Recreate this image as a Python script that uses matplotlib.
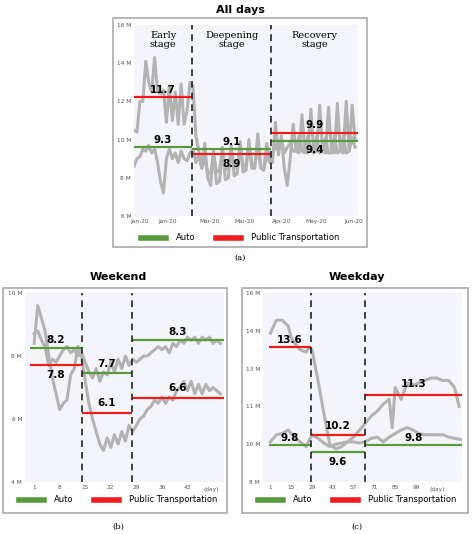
import matplotlib
matplotlib.use("Agg")
import matplotlib.pyplot as plt
from matplotlib.patches import Rectangle
from matplotlib.lines import Line2D
import numpy as np

# ---------- data: All days ----------
all_days = list(range(0, 152, 2))
all_pt = [10.5,10.4,12.0,12.0,14.1,13.0,12.5,14.3,12.5,12.4,12.6,10.9,12.8,11.0,12.5,10.8,12.9,10.8,11.5,13.0,
          12.8,10.2,9.4,8.5,9.8,8.0,7.6,9.4,7.7,7.8,9.6,7.9,8.0,9.7,8.1,8.2,9.9,8.3,8.4,10.0,8.5,8.5,10.3,8.6,8.4,9.8,9.0,
          8.8,10.9,9.2,10.2,8.5,7.6,9.0,10.8,9.4,9.3,11.3,9.4,9.3,11.6,9.3,9.4,11.8,9.4,9.3,11.7,9.4,9.3,11.9,9.4,9.3,12.0,9.4,11.8,10.0]
all_auto = [8.6,9.0,9.1,9.5,9.4,9.7,9.3,9.5,8.8,7.8,7.2,9.0,9.5,9.0,9.3,8.8,9.4,9.0,8.9,9.3,
            9.5,8.8,9.2,8.5,9.0,8.3,8.2,9.3,8.3,8.4,9.4,8.4,8.5,9.5,8.5,8.6,9.6,8.6,8.7,9.7,8.7,8.7,9.6,8.5,8.4,9.2,8.8,
            9.2,9.7,9.4,10.0,9.3,9.6,9.8,9.4,9.4,10.2,9.4,9.3,10.2,9.4,9.3,10.2,9.3,9.4,10.1,9.3,9.3,10.2,9.3,9.4,10.2,9.3,9.4,10.1,9.6]
all_breaks = [0, 39.6, 93, 152]
all_auto_lvl = [9.63, 9.5, 9.95]
all_pt_lvl = [12.25, 9.25, 10.35]
all_auto_lbl = ["9.3", "9.1", "9.4"]
all_pt_lbl = ["11.7", "8.9", "9.9"]
all_xticks = [3.8, 23, 51, 75, 100, 124, 149]
all_xlabels = ["Jan-20", "Jan-20", "Mar-20", "Mar-20", "Apr-20", "May-20", "Jun-20"]
all_yticks = [6, 8, 10, 12, 14, 16]
all_ylabels = ["6 M", "8 M", "10 M", "12 M", "14 M", "16 M"]
stage_names = ["Early\nstage", "Deepening\nstage", "Recovery\nstage"]

# ---------- data: Weekend ----------
we_days = list(range(1, 53))
we_auto = [8.7,8.8,8.5,8.3,7.7,7.9,7.8,8.0,8.2,8.3,8.1,8.2,8.0,8.1,7.8,7.5,7.3,7.6,7.2,7.5,7.4,7.8,7.5,7.9,7.6,8.0,7.7,7.9,
           7.8,7.9,8.0,8.0,8.1,8.2,8.3,8.2,8.3,8.1,8.4,8.3,8.5,8.4,8.6,8.5,8.6,8.4,8.6,8.5,8.6,8.4,8.5,8.4]
we_pt = [8.4,9.6,9.2,8.8,8.0,7.3,6.8,6.3,6.5,6.6,7.4,7.6,8.3,8.0,7.2,6.5,6.0,5.6,5.2,5.0,5.4,5.1,5.5,5.2,5.6,5.3,5.8,5.6,
         5.8,6.0,6.1,6.3,6.4,6.6,6.5,6.7,6.5,6.7,6.6,6.9,7.0,7.2,6.9,7.2,6.8,7.1,6.8,7.1,6.9,7.0,6.9,6.8]
we_breaks = [0, 14, 27.7, 53]
we_auto_lvl = [8.26, 7.45, 8.5]
we_pt_lvl = [7.71, 6.2, 6.68]
we_auto_lbl = ["8.2", "7.7", "8.3"]
we_pt_lbl = ["7.8", "6.1", "6.6"]
we_xticks = [1, 8, 15, 22, 29, 36, 43]
we_yticks = [4, 6, 8, 10]
we_ylabels = ["4 M", "6 M", "8 M", "10 M"]

# ---------- data: Weekday ----------
wd_days = [1,5,9,13,15,17,21,25,27,29,33,37,41,45,49,53,57,61,65,69,73,77,81,83,85,89,93,97,101,105,109,113,117,121,125,128]
wd_pt = [14.3,14.85,14.85,14.6,14.1,13.9,13.6,13.5,13.7,13.6,12.3,10.9,9.6,9.4,9.5,9.7,9.9,10.2,10.5,10.8,11.0,11.3,11.5,10.3,
         12.0,11.5,12.2,12.1,12.2,12.3,12.4,12.4,12.3,12.3,12.0,11.2]
wd_auto_days = [1,5,9,13,17,21,25,29,33,37,41,45,49,53,57,61,65,69,73,77,81,85,89,93,97,101,105,109,113,117,121,125,129]
wd_auto = [9.7,10.0,10.05,10.2,9.9,9.7,9.5,10.0,9.85,9.65,9.5,9.6,9.65,9.7,9.7,9.65,9.7,9.85,9.9,9.7,9.9,10.05,10.2,10.3,
           10.2,10.05,10.0,10.0,10.0,10.0,9.9,9.85,9.8]
wd_breaks = [0, 28, 64.5, 130]
wd_auto_lvl = [9.57, 9.26, 9.57]
wd_pt_lvl = [13.7, 10.0, 11.68]
wd_auto_lbl = ["9.8", "9.6", "9.8"]
wd_pt_lbl = ["13.6", "10.2", "11.3"]
wd_xticks = [1, 15, 29, 43, 57, 71, 85, 99]
wd_yticks = [8, 9.6, 11.2, 12.8, 14.4, 16]
wd_ylabels = ["8 M", "10 M", "11 M", "13 M", "14 M", "16 M"]

GRAY = "#b3b3b3"
GREEN = "#5a9a3e"
RED = "#ee1c1c"
BG = "#f3f5fa"

fig = plt.figure(figsize=(4.74, 5.34), dpi=100)
W, H = 474, 534

def fx(px): return px / W
def fy(py): return 1 - py / H

def frame(x0, y0, x1, y1):
    fig.patches.append(Rectangle((fx(x0), fy(y1)), fx(x1) - fx(x0), fy(y0) - fy(y1),
                                 transform=fig.transFigure, fill=False, edgecolor="#aaaaaa", lw=1.2))

def panel(rect, xs_list, ys_list, breaks, alvl, plvl, albl, plbl, auto_lbl_pos, pt_lbl_pos,
          xticks, xlabels, yticks, ylabels, xlim, ylim):
    x0, y0, x1, y1 = rect
    ax = fig.add_axes([fx(x0), fy(y1), fx(x1) - fx(x0), fy(y0) - fy(y1)])
    ax.set_facecolor(BG)
    for xs, ys in zip(xs_list, ys_list):
        ax.plot(xs, ys, color=GRAY, lw=2.2, zorder=2)
    for b in breaks[1:-1]:
        ax.axvline(b, color="#222222", ls=(0, (4, 3)), lw=1.2, zorder=4)
    for i in range(3):
        a, b = breaks[i], breaks[i + 1]
        ax.hlines(alvl[i], a, b, color=GREEN, lw=1.6, zorder=3)
        ax.hlines(plvl[i], a, b, color=RED, lw=1.6, zorder=3)
        mid = (a + b) / 2
        ax.text(mid, alvl[i] + auto_lbl_pos[i], albl[i], ha="center", va="center",
                fontsize=7.5, fontweight="bold", zorder=5)
        ax.text(mid, plvl[i] + pt_lbl_pos[i], plbl[i], ha="center", va="center",
                fontsize=7.5, fontweight="bold", zorder=5)
    ax.set_xlim(*xlim)
    ax.set_ylim(*ylim)
    ax.set_xticks(xticks)
    ax.set_xticklabels(xlabels, fontsize=4.2, color="#555555")
    ax.set_yticks(yticks)
    ax.set_yticklabels(ylabels, fontsize=4.2, color="#555555")
    ax.tick_params(length=0, pad=2)
    for s in ax.spines.values():
        s.set_visible(False)
    return ax

def legend(xc, yc):
    handles = [Line2D([], [], color=GREEN, lw=4), Line2D([], [], color=RED, lw=4)]
    fig.legend(handles, ["Auto", "Public Transportation"], loc="center",
               bbox_to_anchor=(fx(xc), fy(yc)), ncol=2, frameon=False, fontsize=6,
               handlelength=3, columnspacing=2.5, handletextpad=1.2)

# top panel
frame(113, 18, 367, 247)
ax = panel((134, 25, 358, 216), [all_days, all_days], [all_pt, all_auto], all_breaks,
           all_auto_lvl, all_pt_lvl, all_auto_lbl, all_pt_lbl,
           [0.35, 0.4, -0.5], [0.35, -0.55, 0.4],
           all_xticks, all_xlabels, all_yticks, all_ylabels, (0, 152), (6, 16))
for i, nm in enumerate(stage_names):
    ax.text((all_breaks[i] + all_breaks[i + 1]) / 2, 15.2, nm, ha="center", va="center",
            fontsize=7, family="serif", linespacing=1.0)
fig.text(fx(240), fy(10), "All days", ha="center", va="center", fontsize=8, fontweight="bold")
legend(240, 238)
fig.text(fx(240), fy(258), "(a)", ha="center", va="center", fontsize=6, family="serif")

# weekend
frame(3, 288, 227, 513)
ax = panel((25, 293, 224, 482), [we_days, we_days], [we_auto, we_pt], we_breaks,
           we_auto_lvl, we_pt_lvl, we_auto_lbl, we_pt_lbl,
           [0.25, 0.3, 0.25], [-0.3, 0.3, 0.3],
           we_xticks, [str(v) for v in we_xticks], we_yticks, we_ylabels, (-1.5, 53), (4, 10))
ax.text(49.5, 3.83, "(day)", fontsize=4.2, color="#555555", ha="center", va="top")
fig.text(fx(118), fy(277), "Weekend", ha="center", va="center", fontsize=8, fontweight="bold")
legend(118, 500)
fig.text(fx(118), fy(527), "(b)", ha="center", va="center", fontsize=6, family="serif")

# weekday
frame(242, 288, 468, 513)
ax = panel((263, 293, 462, 482), [wd_days, wd_auto_days], [wd_pt, wd_auto], wd_breaks,
           wd_auto_lvl, wd_pt_lvl, wd_auto_lbl, wd_pt_lbl,
           [0.3, -0.4, 0.3], [0.3, 0.35, 0.45],
           wd_xticks, [str(v) for v in wd_xticks], wd_yticks, wd_ylabels, (-4, 130), (8, 16))
ax.text(113, 7.78, "(day)", fontsize=4.2, color="#555555", ha="center", va="top")
fig.text(fx(357), fy(277), "Weekday", ha="center", va="center", fontsize=8, fontweight="bold")
legend(357, 500)
fig.text(fx(357), fy(527), "(c)", ha="center", va="center", fontsize=6, family="serif")

fig.savefig("out.png", dpi=100)
